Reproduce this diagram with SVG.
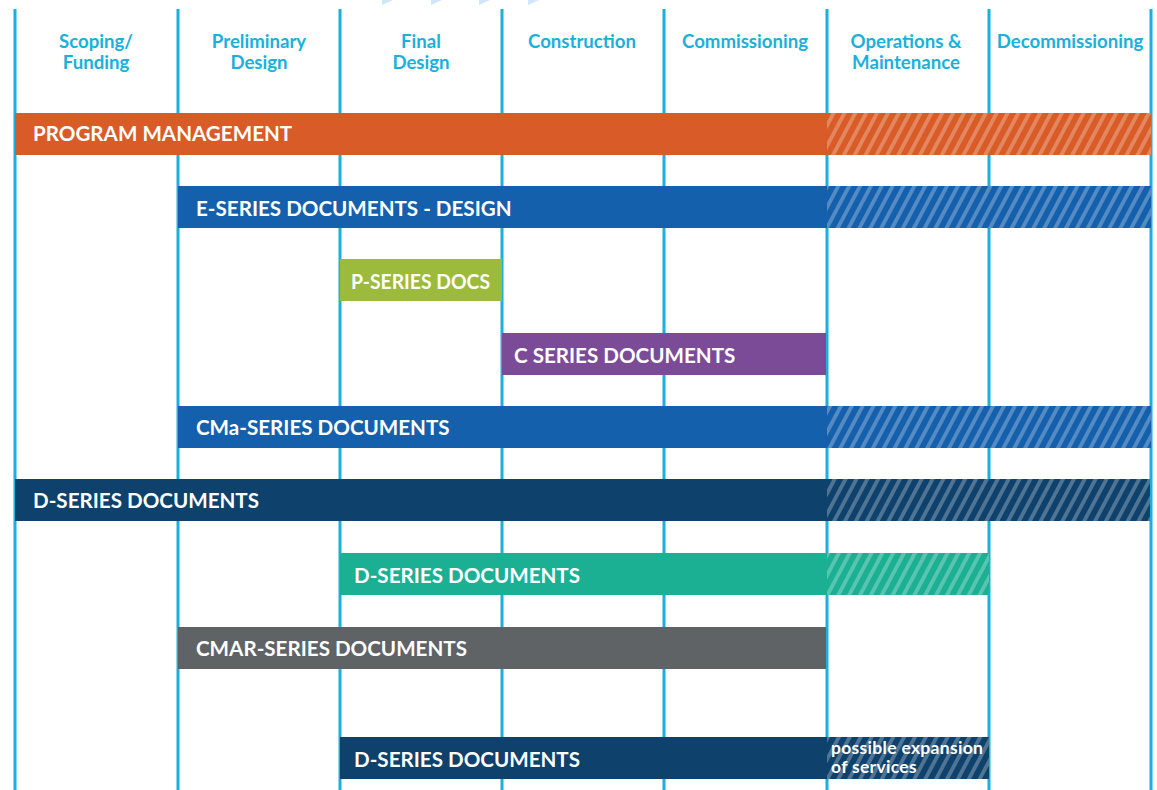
<svg xmlns="http://www.w3.org/2000/svg" width="1157" height="790" viewBox="0 0 1157 790">
  <style>
    .grid line { stroke: #1ab0dd; stroke-width: 3; }
    .phase { font-family: Lato, "Open Sans", "Liberation Sans", sans-serif; font-weight: 700; font-size: 18.6px; fill: #1ab0dd; text-anchor: middle; }
    .label { font-family: Lato, "Open Sans", "Liberation Sans", sans-serif; font-weight: 700; font-size: 20.6px; fill: #ffffff; }
    .note { font-family: Lato, "Open Sans", "Liberation Sans", sans-serif; font-weight: 700; font-size: 17.5px; fill: #ffffff; letter-spacing: 0.3px; }
    .hatch { fill: url(#stripes); }
    .notch { fill: #cfe7f6; }
  </style>
  <defs>
    <!-- light diagonal stripes laid over the part of a bar that may extend -->
    <pattern id="stripes" patternUnits="userSpaceOnUse" width="9.6" height="9.6" patternTransform="rotate(28)">
      <rect x="0" y="0" width="3.8" height="9.6" fill="#ffffff" fill-opacity="0.27"/>
    </pattern>
  </defs>

  <rect width="1157" height="790" fill="#ffffff"/>

  <!-- small wedges at the top edge -->
  <g id="wedges">
    <polygon class="notch" points="382,0 393,0 382,5"/>
    <polygon class="notch" points="431,0 442,0 431,5"/>
    <polygon class="notch" points="479,0 490,0 479,5"/>
    <polygon class="notch" points="528,0 539,0 528,5"/>
  </g>

  <!-- phase dividers -->
  <g id="grid" class="grid">
    <line x1="15" y1="9" x2="15" y2="790"/>
    <line x1="178" y1="9" x2="178" y2="790"/>
    <line x1="340" y1="9" x2="340" y2="790"/>
    <line x1="502" y1="9" x2="502" y2="790"/>
    <line x1="664" y1="9" x2="664" y2="790"/>
    <line x1="827" y1="9" x2="827" y2="790"/>
    <line x1="989" y1="9" x2="989" y2="790"/>
    <line x1="1151" y1="9" x2="1151" y2="790"/>
  </g>

  <!-- phase headings -->
  <g id="phases" class="phase">
    <text x="96" y="48">Scoping/<tspan x="96" y="69">Funding</tspan></text>
    <text x="259" y="48">Preliminary<tspan x="259" y="69">Design</tspan></text>
    <text x="421" y="48">Final<tspan x="421" y="69">Design</tspan></text>
    <text x="582" y="48">Construction</text>
    <text x="745" y="48">Commissioning</text>
    <text x="906" y="48">Operations &amp;<tspan x="906" y="69">Maintenance</tspan></text>
    <text x="1070" y="48">Decommissioning</text>
  </g>

  <g id="program-management">
    <rect x="15" y="113" width="1136" height="42" fill="#d95b27"/>
    <rect class="hatch" x="827" y="113" width="324" height="42"/>
    <text class="label" x="33" y="141">PROGRAM MANAGEMENT</text>
  </g>

  <g id="e-series">
    <rect x="178" y="186" width="973" height="42" fill="#1560ad"/>
    <rect class="hatch" x="827" y="186" width="324" height="42"/>
    <text class="label" x="196" y="216">E-SERIES DOCUMENTS - DESIGN</text>
  </g>

  <g id="p-series">
    <rect x="340" y="259" width="162" height="42" fill="#9cba3c"/>
    <text class="label" x="351" y="289" textLength="139" lengthAdjust="spacingAndGlyphs">P-SERIES DOCS</text>
  </g>

  <g id="c-series">
    <rect x="502" y="333" width="324" height="42" fill="#7b4b98"/>
    <text class="label" x="514" y="363">C SERIES DOCUMENTS</text>
  </g>

  <g id="cma-series">
    <rect x="178" y="406" width="973" height="42" fill="#1560ad"/>
    <rect class="hatch" x="827" y="406" width="324" height="42"/>
    <text class="label" x="196" y="435">CMa-SERIES DOCUMENTS</text>
  </g>

  <g id="d-series-full">
    <rect x="15" y="479" width="1135" height="42" fill="#0e416c"/>
    <rect class="hatch" x="827" y="479" width="323" height="42"/>
    <text class="label" x="33" y="508">D-SERIES DOCUMENTS</text>
  </g>

  <g id="d-series-teal">
    <rect x="340" y="553" width="649" height="42" fill="#1bb093"/>
    <rect class="hatch" x="827" y="553" width="162" height="42"/>
    <text class="label" x="354" y="583">D-SERIES DOCUMENTS</text>
  </g>

  <g id="cmar-series">
    <rect x="178" y="627" width="648" height="42" fill="#606366"/>
    <text class="label" x="196" y="656">CMAR-SERIES DOCUMENTS</text>
  </g>

  <g id="d-series-expansion">
    <rect x="340" y="737" width="649" height="42" fill="#0e416c"/>
    <rect class="hatch" x="827" y="737" width="162" height="42"/>
    <text class="label" x="354" y="767">D-SERIES DOCUMENTS</text>
    <text class="note" x="831" y="754">possible expansion<tspan x="831" y="773">of services</tspan></text>
  </g>
</svg>
